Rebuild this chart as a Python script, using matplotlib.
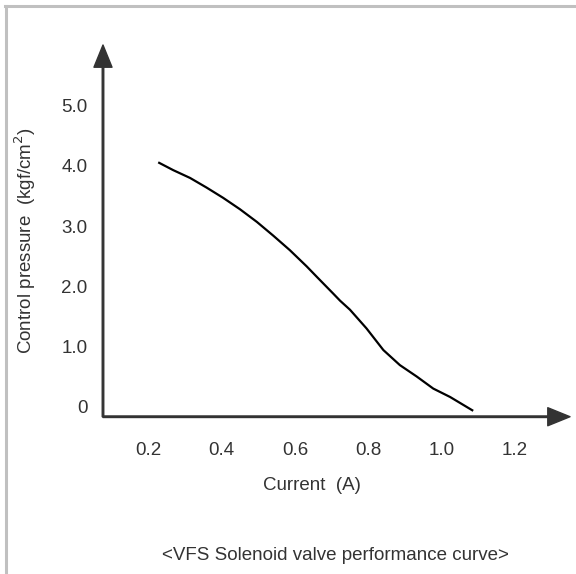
"""VFS solenoid valve performance curve: control pressure vs. current."""

import matplotlib

matplotlib.use("Agg")

import matplotlib.pyplot as plt
from matplotlib.lines import Line2D

plt.rcParams["font.family"] = ["Liberation Sans", "DejaVu Sans"]

# Curve (current in A, pressure in kgf/cm2)
current = [0.227, 0.268, 0.314, 0.359, 0.404, 0.450, 0.496, 0.541, 0.586,
           0.632, 0.659, 0.704, 0.723, 0.750, 0.795, 0.841, 0.886, 0.932,
           0.977, 1.023, 1.086]
pressure = [4.06, 3.93, 3.80, 3.64, 3.47, 3.28, 3.07, 2.84, 2.60,
            2.33, 2.16, 1.88, 1.76, 1.61, 1.30, 0.94, 0.69, 0.50,
            0.30, 0.16, -0.07]

x_ticks = [0.2, 0.4, 0.6, 0.8, 1.0, 1.2]
x_tick_labels = ["0.2", "0.4", "0.6", "0.8", "1.0", "1.2"]
y_ticks = [0, 1, 2, 3, 4, 5]
y_tick_labels = ["0", "1.0", "2.0", "3.0", "4.0", "5.0"]

TEXT = "#333333"
AXIS = "#333333"
BORDER = "#c0c0c0"
FS = 13.5

fig = plt.figure(figsize=(5.76, 5.74), dpi=100)
ax = fig.add_axes([0.1788, 0.274, 0.8108, 0.6476])

ax.plot(current, pressure, color="black", linewidth=1.6,
        solid_capstyle="butt", solid_joinstyle="round")

ax.set_xlim(0.0764, 1.35)
ax.set_ylim(-0.168, 6.01)
for s in ax.spines.values():
    s.set_visible(False)

ax.set_xticks(x_ticks, x_tick_labels)
ax.set_yticks(y_ticks, y_tick_labels)
ax.tick_params(axis="x", length=0, pad=18, labelsize=FS, labelcolor=TEXT)
ax.tick_params(axis="y", length=0, pad=11, labelsize=FS, labelcolor=TEXT)

# axis lines with arrow heads
arrow = dict(width=1.1, headwidth=13, headlength=16, shrink=0,
             facecolor=AXIS, edgecolor=AXIS)
ax.annotate("", xy=(1, 0), xytext=(0, 0), xycoords="axes fraction",
            textcoords="axes fraction", arrowprops=arrow, annotation_clip=False)
ax.annotate("", xy=(0, 1), xytext=(0, 0), xycoords="axes fraction",
            textcoords="axes fraction", arrowprops=arrow, annotation_clip=False)

ax.set_xlabel("Current  (A)", fontsize=FS, color=TEXT)
ax.xaxis.label.set_va("center")
ax.xaxis.set_label_coords(0.4475, -0.184)

fig.text(25 / 576, 1 - 241 / 574, "Control pressure  (kgf/cm$^2$)",
         rotation=90, ha="center", va="center", fontsize=FS, color=TEXT)

fig.text(335 / 576, 1 - 555 / 574, "<VFS Solenoid valve performance curve>",
         ha="center", va="center", fontsize=FS, color=TEXT)

# thin gray frame on the left and top edge
fig.add_artist(Line2D([6 / 576, 6 / 576], [0, 1 - 6 / 574], transform=fig.transFigure,
                      color=BORDER, linewidth=2.2))
fig.add_artist(Line2D([5 / 576, 1], [1 - 6 / 574, 1 - 6 / 574], transform=fig.transFigure,
                      color=BORDER, linewidth=2.2))

fig.savefig("out.png", dpi=100)
